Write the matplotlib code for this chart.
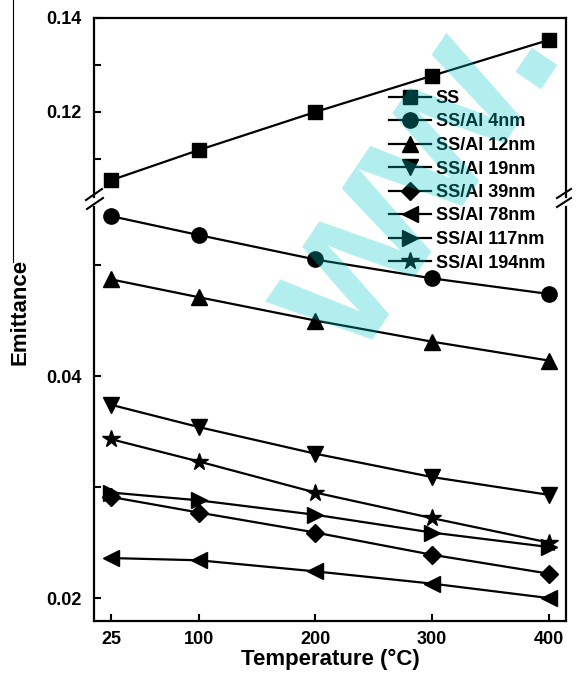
import matplotlib
matplotlib.use('Agg')
import matplotlib.pyplot as plt
from matplotlib.lines import Line2D

plt.rcParams['font.family'] = 'Liberation Sans'
plt.rcParams['font.weight'] = 'bold'

# temperatures (°C)
temps = [25, 100, 200, 300, 400]

# emittance
ss = [0.1055, 0.1119, 0.1200, 0.1277, 0.1353]
al_4 = [0.0544, 0.0527, 0.0505, 0.0488, 0.0474]
al_12 = [0.0487, 0.0471, 0.0450, 0.0431, 0.0414]
al_19 = [0.0374, 0.0354, 0.0330, 0.0309, 0.0293]
al_39 = [0.0291, 0.0277, 0.0259, 0.0239, 0.0222]
al_78 = [0.0236, 0.0234, 0.0224, 0.0213, 0.0200]
al_117 = [0.0295, 0.0288, 0.0275, 0.0259, 0.0246]
al_194 = [0.0343, 0.0323, 0.0295, 0.0272, 0.0250]

labels = ['SS', 'SS/Al 4nm', 'SS/Al 12nm', 'SS/Al 19nm', 'SS/Al 39nm',
          'SS/Al 78nm', 'SS/Al 117nm', 'SS/Al 194nm']
markers = ['s', 'o', '^', 'v', 'D', '<', '>', '*']
sizes = [9.5, 11, 11, 11, 9, 11, 11, 13]

W, H = 576, 678
fig = plt.figure(figsize=(W / 100, H / 100), dpi=100)


def fx(x):
    return x / W


def fy(y):
    return 1 - y / H


ax_top = fig.add_axes([fx(94), fy(197), fx(566) - fx(94), fy(18) - fy(197)])
ax_bot = fig.add_axes([fx(94), fy(621), fx(566) - fx(94), fy(207) - fy(621)])

series = [ss, al_4, al_12, al_19, al_39, al_78, al_117, al_194]
handles = []
for i, vals in enumerate(series):
    ax = ax_top if i == 0 else ax_bot
    ln, = ax.plot(temps, vals, color='black', lw=1.6, marker=markers[i],
                  markersize=sizes[i], markerfacecolor='black',
                  markeredgecolor='black', clip_on=False)
    handles.append(ln)

for ax in (ax_top, ax_bot):
    ax.set_xlim(10, 415)
    for s in ax.spines.values():
        s.set_linewidth(1.6)
    ax.tick_params(direction='in', length=5, width=1.5, labelsize=13, pad=9)

ax_top.set_ylim(0.1019, 0.14)
ax_top.set_yticks([0.11, 0.12, 0.13, 0.14], ['', '0.12', '', '0.14'])
ax_top.spines['bottom'].set_visible(False)
ax_top.tick_params(axis='x', bottom=False, labelbottom=False)
ax_top.tick_params(axis='y', right=False)

ax_bot.set_ylim(0.01793, 0.05523)
ax_bot.set_yticks([0.02, 0.03, 0.04, 0.05], ['0.02', '', '0.04', ''])
ax_bot.spines['top'].set_visible(False)
ax_bot.set_xticks(temps, [str(t) for t in temps])
ax_bot.tick_params(axis='x', labelsize=13, pad=7)
ax_bot.set_xlabel('Temperature (\u00b0C)', fontsize=16, fontweight='bold', labelpad=1)

fig.text(fx(20), fy(312), 'Emittance', rotation=90, fontsize=16,
         fontweight='bold', ha='center', va='center')

# axis break marks
for (x0, y0, x1, y1) in [(86, 200, 102, 189), (87, 209, 103, 198),
                         (557, 198, 571, 189), (557, 207, 571, 198)]:
    fig.add_artist(Line2D([fx(x0), fx(x1)], [fy(y0), fy(y1)],
                          transform=fig.transFigure, color='black', lw=1.5))

# stray vertical line at the left edge of the scan
fig.add_artist(Line2D([fx(13), fx(13)], [fy(0), fy(262)],
                      transform=fig.transFigure, color='black', lw=0.8))

fig.legend(handles, labels, loc='upper left', bbox_to_anchor=(fx(389), fy(90)),
           frameon=False, fontsize=13, handlelength=2.3, handletextpad=0.3,
           labelspacing=0.36, borderpad=0, borderaxespad=0)

# watermark
fig.text(fx(418), fy(178), 'ww.', rotation=56, fontsize=150, fontweight='bold',
         color='#00c8c8', alpha=0.3, ha='center', va='center', zorder=20)

fig.savefig('out.png', dpi=100)
